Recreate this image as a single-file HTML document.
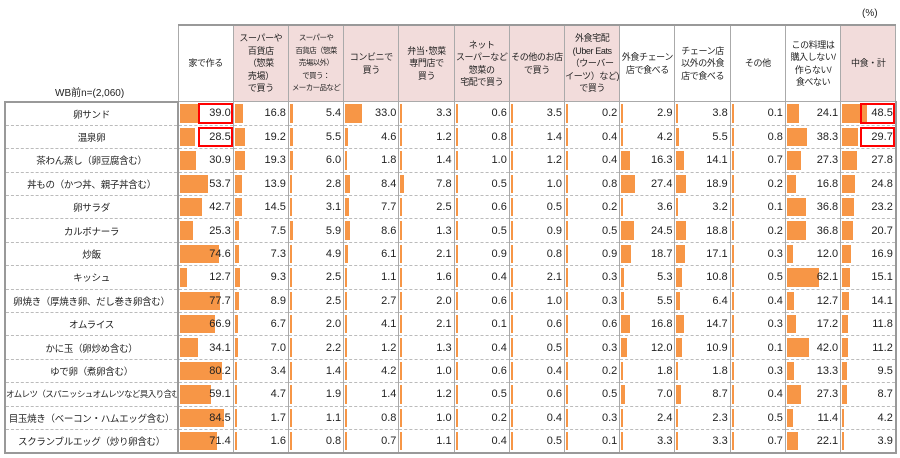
<!DOCTYPE html>
<html><head><meta charset="utf-8"><style>
body{margin:0;background:#fff;width:900px;height:458px;overflow:hidden;font-family:"Liberation Sans","Noto Sans CJK JP",sans-serif;color:#222}
.pct{position:absolute;left:862px;top:8px;font-size:10px}
table{position:absolute;left:4px;top:24px;border-collapse:collapse;table-layout:fixed;width:891px}
td,th{padding:0;font-weight:normal}
th{height:75px;font-size:9px;line-height:12.5px;text-align:center;border:1px solid #aaa;border-top:2px solid #999;white-space:nowrap;overflow:hidden;letter-spacing:-0.4px}
th.p{background:#f2dcdb}
th.lab{border:none;border-bottom:2px solid #999;vertical-align:bottom;text-align:left;padding-left:50px;font-size:10px;line-height:14px;letter-spacing:0}
td{height:22.4px;border-left:1px solid #aaa;border-right:1px solid #aaa;border-bottom:1px dashed #bbb;position:relative;text-align:right;font-size:11px}
td.l{text-align:center;font-size:9.5px;border-left:2px solid #999;border-right:2px solid #999;white-space:nowrap;letter-spacing:-0.3px;overflow:hidden}
tr:last-child td{border-bottom:2px solid #999}
td:last-child{border-right:2px solid #999}
td b{position:absolute;left:1px;top:2px;bottom:2px;background:#f79646;width:max(2px,calc(var(--v)*0.52px))}
td span{position:relative;padding-right:2px}
td em{position:absolute;right:0;top:1px;bottom:1px;width:35px;border:2px solid #f00;box-sizing:border-box}
</style></head><body>
<div class="pct">(%)</div>
<table>
<colgroup><col style="width:173px"><col span="13" style="width:55.23px"></colgroup>
<tr><th class="lab">WB前n=(2,060)</th><th>家で作る</th><th class="p">スーパーや<br>百貨店<br>（惣菜<br>売場）<br>で買う</th><th class="p" style="font-size:7.5px;letter-spacing:-0.6px">スーパーや<br>百貨店（惣菜<br>売場以外）<br>で買う：<br>メーカー品など</th><th class="p">コンビニで<br>買う</th><th class="p">弁当･惣菜<br>専門店で<br>買う</th><th class="p">ネット<br>スーパーなど<br>惣菜の<br>宅配で買う</th><th class="p">その他のお店<br>で買う</th><th class="p">外食宅配<br>(Uber Eats<br>（ウーバー<br>イーツ）など)<br>で買う</th><th>外食チェーン<br>店で食べる</th><th>チェーン店<br>以外の外食<br>店で食べる</th><th>その他</th><th>この料理は<br>購入しない/<br>作らない/<br>食べない</th><th class="p">中食・計</th></tr>
<tr><td class="l">卵サンド</td><td style="--v:39.0"><b></b><em></em><span>39.0</span></td><td style="--v:16.8"><b></b><span>16.8</span></td><td style="--v:5.4"><b></b><span>5.4</span></td><td style="--v:33.0"><b></b><span>33.0</span></td><td style="--v:3.3"><b></b><span>3.3</span></td><td style="--v:0.6"><b></b><span>0.6</span></td><td style="--v:3.5"><b></b><span>3.5</span></td><td style="--v:0.2"><b></b><span>0.2</span></td><td style="--v:2.9"><b></b><span>2.9</span></td><td style="--v:3.8"><b></b><span>3.8</span></td><td style="--v:0.1"><b></b><span>0.1</span></td><td style="--v:24.1"><b></b><span>24.1</span></td><td style="--v:48.5"><b></b><em></em><span>48.5</span></td></tr>
<tr><td class="l">温泉卵</td><td style="--v:28.5"><b></b><em></em><span>28.5</span></td><td style="--v:19.2"><b></b><span>19.2</span></td><td style="--v:5.5"><b></b><span>5.5</span></td><td style="--v:4.6"><b></b><span>4.6</span></td><td style="--v:1.2"><b></b><span>1.2</span></td><td style="--v:0.8"><b></b><span>0.8</span></td><td style="--v:1.4"><b></b><span>1.4</span></td><td style="--v:0.4"><b></b><span>0.4</span></td><td style="--v:4.2"><b></b><span>4.2</span></td><td style="--v:5.5"><b></b><span>5.5</span></td><td style="--v:0.8"><b></b><span>0.8</span></td><td style="--v:38.3"><b></b><span>38.3</span></td><td style="--v:29.7"><b></b><em></em><span>29.7</span></td></tr>
<tr><td class="l">茶わん蒸し（卵豆腐含む）</td><td style="--v:30.9"><b></b><span>30.9</span></td><td style="--v:19.3"><b></b><span>19.3</span></td><td style="--v:6.0"><b></b><span>6.0</span></td><td style="--v:1.8"><b></b><span>1.8</span></td><td style="--v:1.4"><b></b><span>1.4</span></td><td style="--v:1.0"><b></b><span>1.0</span></td><td style="--v:1.2"><b></b><span>1.2</span></td><td style="--v:0.4"><b></b><span>0.4</span></td><td style="--v:16.3"><b></b><span>16.3</span></td><td style="--v:14.1"><b></b><span>14.1</span></td><td style="--v:0.7"><b></b><span>0.7</span></td><td style="--v:27.3"><b></b><span>27.3</span></td><td style="--v:27.8"><b></b><span>27.8</span></td></tr>
<tr><td class="l">丼もの（かつ丼、親子丼含む）</td><td style="--v:53.7"><b></b><span>53.7</span></td><td style="--v:13.9"><b></b><span>13.9</span></td><td style="--v:2.8"><b></b><span>2.8</span></td><td style="--v:8.4"><b></b><span>8.4</span></td><td style="--v:7.8"><b></b><span>7.8</span></td><td style="--v:0.5"><b></b><span>0.5</span></td><td style="--v:1.0"><b></b><span>1.0</span></td><td style="--v:0.8"><b></b><span>0.8</span></td><td style="--v:27.4"><b></b><span>27.4</span></td><td style="--v:18.9"><b></b><span>18.9</span></td><td style="--v:0.2"><b></b><span>0.2</span></td><td style="--v:16.8"><b></b><span>16.8</span></td><td style="--v:24.8"><b></b><span>24.8</span></td></tr>
<tr><td class="l">卵サラダ</td><td style="--v:42.7"><b></b><span>42.7</span></td><td style="--v:14.5"><b></b><span>14.5</span></td><td style="--v:3.1"><b></b><span>3.1</span></td><td style="--v:7.7"><b></b><span>7.7</span></td><td style="--v:2.5"><b></b><span>2.5</span></td><td style="--v:0.6"><b></b><span>0.6</span></td><td style="--v:0.5"><b></b><span>0.5</span></td><td style="--v:0.2"><b></b><span>0.2</span></td><td style="--v:3.6"><b></b><span>3.6</span></td><td style="--v:3.2"><b></b><span>3.2</span></td><td style="--v:0.1"><b></b><span>0.1</span></td><td style="--v:36.8"><b></b><span>36.8</span></td><td style="--v:23.2"><b></b><span>23.2</span></td></tr>
<tr><td class="l">カルボナーラ</td><td style="--v:25.3"><b></b><span>25.3</span></td><td style="--v:7.5"><b></b><span>7.5</span></td><td style="--v:5.9"><b></b><span>5.9</span></td><td style="--v:8.6"><b></b><span>8.6</span></td><td style="--v:1.3"><b></b><span>1.3</span></td><td style="--v:0.5"><b></b><span>0.5</span></td><td style="--v:0.9"><b></b><span>0.9</span></td><td style="--v:0.5"><b></b><span>0.5</span></td><td style="--v:24.5"><b></b><span>24.5</span></td><td style="--v:18.8"><b></b><span>18.8</span></td><td style="--v:0.2"><b></b><span>0.2</span></td><td style="--v:36.8"><b></b><span>36.8</span></td><td style="--v:20.7"><b></b><span>20.7</span></td></tr>
<tr><td class="l">炒飯</td><td style="--v:74.6"><b></b><span>74.6</span></td><td style="--v:7.3"><b></b><span>7.3</span></td><td style="--v:4.9"><b></b><span>4.9</span></td><td style="--v:6.1"><b></b><span>6.1</span></td><td style="--v:2.1"><b></b><span>2.1</span></td><td style="--v:0.9"><b></b><span>0.9</span></td><td style="--v:0.8"><b></b><span>0.8</span></td><td style="--v:0.9"><b></b><span>0.9</span></td><td style="--v:18.7"><b></b><span>18.7</span></td><td style="--v:17.1"><b></b><span>17.1</span></td><td style="--v:0.3"><b></b><span>0.3</span></td><td style="--v:12.0"><b></b><span>12.0</span></td><td style="--v:16.9"><b></b><span>16.9</span></td></tr>
<tr><td class="l">キッシュ</td><td style="--v:12.7"><b></b><span>12.7</span></td><td style="--v:9.3"><b></b><span>9.3</span></td><td style="--v:2.5"><b></b><span>2.5</span></td><td style="--v:1.1"><b></b><span>1.1</span></td><td style="--v:1.6"><b></b><span>1.6</span></td><td style="--v:0.4"><b></b><span>0.4</span></td><td style="--v:2.1"><b></b><span>2.1</span></td><td style="--v:0.3"><b></b><span>0.3</span></td><td style="--v:5.3"><b></b><span>5.3</span></td><td style="--v:10.8"><b></b><span>10.8</span></td><td style="--v:0.5"><b></b><span>0.5</span></td><td style="--v:62.1"><b></b><span>62.1</span></td><td style="--v:15.1"><b></b><span>15.1</span></td></tr>
<tr><td class="l">卵焼き（厚焼き卵、だし巻き卵含む）</td><td style="--v:77.7"><b></b><span>77.7</span></td><td style="--v:8.9"><b></b><span>8.9</span></td><td style="--v:2.5"><b></b><span>2.5</span></td><td style="--v:2.7"><b></b><span>2.7</span></td><td style="--v:2.0"><b></b><span>2.0</span></td><td style="--v:0.6"><b></b><span>0.6</span></td><td style="--v:1.0"><b></b><span>1.0</span></td><td style="--v:0.3"><b></b><span>0.3</span></td><td style="--v:5.5"><b></b><span>5.5</span></td><td style="--v:6.4"><b></b><span>6.4</span></td><td style="--v:0.4"><b></b><span>0.4</span></td><td style="--v:12.7"><b></b><span>12.7</span></td><td style="--v:14.1"><b></b><span>14.1</span></td></tr>
<tr><td class="l">オムライス</td><td style="--v:66.9"><b></b><span>66.9</span></td><td style="--v:6.7"><b></b><span>6.7</span></td><td style="--v:2.0"><b></b><span>2.0</span></td><td style="--v:4.1"><b></b><span>4.1</span></td><td style="--v:2.1"><b></b><span>2.1</span></td><td style="--v:0.1"><b></b><span>0.1</span></td><td style="--v:0.6"><b></b><span>0.6</span></td><td style="--v:0.6"><b></b><span>0.6</span></td><td style="--v:16.8"><b></b><span>16.8</span></td><td style="--v:14.7"><b></b><span>14.7</span></td><td style="--v:0.3"><b></b><span>0.3</span></td><td style="--v:17.2"><b></b><span>17.2</span></td><td style="--v:11.8"><b></b><span>11.8</span></td></tr>
<tr><td class="l">かに玉（卵炒め含む）</td><td style="--v:34.1"><b></b><span>34.1</span></td><td style="--v:7.0"><b></b><span>7.0</span></td><td style="--v:2.2"><b></b><span>2.2</span></td><td style="--v:1.2"><b></b><span>1.2</span></td><td style="--v:1.3"><b></b><span>1.3</span></td><td style="--v:0.4"><b></b><span>0.4</span></td><td style="--v:0.5"><b></b><span>0.5</span></td><td style="--v:0.3"><b></b><span>0.3</span></td><td style="--v:12.0"><b></b><span>12.0</span></td><td style="--v:10.9"><b></b><span>10.9</span></td><td style="--v:0.1"><b></b><span>0.1</span></td><td style="--v:42.0"><b></b><span>42.0</span></td><td style="--v:11.2"><b></b><span>11.2</span></td></tr>
<tr><td class="l">ゆで卵（煮卵含む）</td><td style="--v:80.2"><b></b><span>80.2</span></td><td style="--v:3.4"><b></b><span>3.4</span></td><td style="--v:1.4"><b></b><span>1.4</span></td><td style="--v:4.2"><b></b><span>4.2</span></td><td style="--v:1.0"><b></b><span>1.0</span></td><td style="--v:0.6"><b></b><span>0.6</span></td><td style="--v:0.4"><b></b><span>0.4</span></td><td style="--v:0.2"><b></b><span>0.2</span></td><td style="--v:1.8"><b></b><span>1.8</span></td><td style="--v:1.8"><b></b><span>1.8</span></td><td style="--v:0.3"><b></b><span>0.3</span></td><td style="--v:13.3"><b></b><span>13.3</span></td><td style="--v:9.5"><b></b><span>9.5</span></td></tr>
<tr><td class="l" style="font-size:8.5px;letter-spacing:-0.6px">オムレツ（スパニッシュオムレツなど具入り含む）</td><td style="--v:59.1"><b></b><span>59.1</span></td><td style="--v:4.7"><b></b><span>4.7</span></td><td style="--v:1.9"><b></b><span>1.9</span></td><td style="--v:1.4"><b></b><span>1.4</span></td><td style="--v:1.2"><b></b><span>1.2</span></td><td style="--v:0.5"><b></b><span>0.5</span></td><td style="--v:0.6"><b></b><span>0.6</span></td><td style="--v:0.5"><b></b><span>0.5</span></td><td style="--v:7.0"><b></b><span>7.0</span></td><td style="--v:8.7"><b></b><span>8.7</span></td><td style="--v:0.4"><b></b><span>0.4</span></td><td style="--v:27.3"><b></b><span>27.3</span></td><td style="--v:8.7"><b></b><span>8.7</span></td></tr>
<tr><td class="l">目玉焼き（ベーコン・ハムエッグ含む）</td><td style="--v:84.5"><b></b><span>84.5</span></td><td style="--v:1.7"><b></b><span>1.7</span></td><td style="--v:1.1"><b></b><span>1.1</span></td><td style="--v:0.8"><b></b><span>0.8</span></td><td style="--v:1.0"><b></b><span>1.0</span></td><td style="--v:0.2"><b></b><span>0.2</span></td><td style="--v:0.4"><b></b><span>0.4</span></td><td style="--v:0.3"><b></b><span>0.3</span></td><td style="--v:2.4"><b></b><span>2.4</span></td><td style="--v:2.3"><b></b><span>2.3</span></td><td style="--v:0.5"><b></b><span>0.5</span></td><td style="--v:11.4"><b></b><span>11.4</span></td><td style="--v:4.2"><b></b><span>4.2</span></td></tr>
<tr><td class="l">スクランブルエッグ（炒り卵含む）</td><td style="--v:71.4"><b></b><span>71.4</span></td><td style="--v:1.6"><b></b><span>1.6</span></td><td style="--v:0.8"><b></b><span>0.8</span></td><td style="--v:0.7"><b></b><span>0.7</span></td><td style="--v:1.1"><b></b><span>1.1</span></td><td style="--v:0.4"><b></b><span>0.4</span></td><td style="--v:0.5"><b></b><span>0.5</span></td><td style="--v:0.1"><b></b><span>0.1</span></td><td style="--v:3.3"><b></b><span>3.3</span></td><td style="--v:3.3"><b></b><span>3.3</span></td><td style="--v:0.7"><b></b><span>0.7</span></td><td style="--v:22.1"><b></b><span>22.1</span></td><td style="--v:3.9"><b></b><span>3.9</span></td></tr>
</table>
</body></html>
